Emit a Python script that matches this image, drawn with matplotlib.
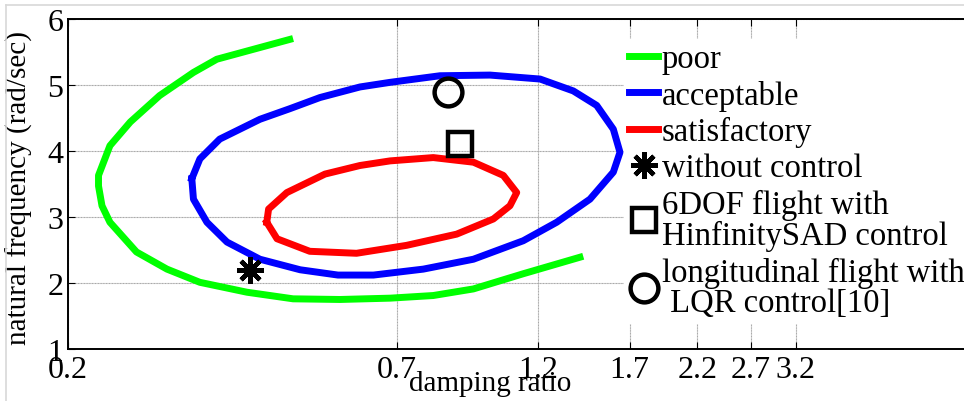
import matplotlib
matplotlib.use("Agg")
import matplotlib.pyplot as plt
from matplotlib.lines import Line2D
from matplotlib.ticker import FixedLocator, NullLocator, FixedFormatter

# 境界曲線（減衰比, 固有振動数）
poor_zeta = [0.466, 0.353, 0.323, 0.284, 0.254, 0.235, 0.225, 0.225, 0.228, 0.235, 0.260,
             0.292, 0.331, 0.396, 0.472, 0.564, 0.683, 0.805, 0.938, 1.134, 1.407]
poor_wn = [5.69, 5.39, 5.19, 4.84, 4.44, 4.08, 3.63, 3.47, 3.17, 2.92, 2.47,
           2.21, 2.01, 1.86, 1.76, 1.75, 1.77, 1.81, 1.91, 2.14, 2.39]

acceptable_zeta = [0.321, 0.331, 0.357, 0.416, 0.466, 0.523, 0.609, 0.683, 0.826, 0.999,
                   1.209, 1.372, 1.500, 1.598, 1.639, 1.598, 1.462, 1.288, 1.134, 0.938,
                   0.775, 0.641, 0.560, 0.485, 0.416, 0.367, 0.340, 0.323, 0.321]
acceptable_wn = [3.58, 3.88, 4.18, 4.48, 4.64, 4.81, 4.97, 5.04, 5.14, 5.15,
                 5.09, 4.91, 4.69, 4.33, 3.98, 3.68, 3.27, 2.92, 2.64, 2.36,
                 2.21, 2.12, 2.12, 2.20, 2.36, 2.62, 2.92, 3.27, 3.58]

satisfactory_zeta = [0.427, 0.430, 0.461, 0.533, 0.609, 0.683, 0.805, 0.938, 1.051,
                     1.106, 1.078, 1.012, 0.880, 0.727, 0.601, 0.503, 0.444, 0.427]
satisfactory_wn = [2.92, 3.12, 3.37, 3.65, 3.78, 3.85, 3.90, 3.83, 3.63,
                   3.37, 3.17, 2.97, 2.74, 2.57, 2.45, 2.48, 2.67, 2.92]

# 各制御条件の点
no_control_pt = (0.40, 2.2)
hinf_pt = (0.89, 4.1)
lqr_pt = (0.85, 4.9)

x_ticks = [0.2, 0.7, 1.2, 1.7, 2.2, 2.7, 3.2]
x_tick_labels = ["0.2", "0.7", "1.2", "1.7", "2.2", "2.7", "3.2"]
y_ticks = [1, 2, 3, 4, 5, 6]

legend_labels = ["poor", "acceptable", "satisfactory", "without control",
                 "6DOF flight with\nHinfinitySAD control",
                 "longitudinal flight with\n LQR control[10]"]


def main():
    """
    減衰比と固有振動数の評価図を描画し，out.png に保存する
    """
    plt.rcParams["font.family"] = ["Liberation Serif", "DejaVu Serif"]

    fig = plt.figure(figsize=(9.64, 4.02), dpi=100)
    # 軸の右端は画像の外側まで伸ばす
    ax = fig.add_axes([0.0701, 0.1294, 1.0657, 0.8209])

    ax.set_xscale("log")
    ax.set_xlim(0.2, 10)
    ax.set_ylim(1, 6)

    lw = 5
    ax.plot(poor_zeta, poor_wn, color="#00ff00", lw=lw, solid_joinstyle="round")
    ax.plot(acceptable_zeta, acceptable_wn, color="#0000ff", lw=lw, solid_joinstyle="round")
    ax.plot(satisfactory_zeta, satisfactory_wn, color="#ff0000", lw=lw, solid_joinstyle="round")

    star_kw = dict(marker=(8, 2, 0), markersize=19, mew=3.2, color="black", ls="none")
    sq_kw = dict(marker="s", markersize=17, mew=3.2, mfc="none", mec="black", ls="none")
    circ_kw = dict(marker="o", markersize=20, mew=3.2, mfc="none", mec="black", ls="none")
    ax.plot([no_control_pt[0]], [no_control_pt[1]], **star_kw)
    ax.plot([hinf_pt[0]], [hinf_pt[1]], **sq_kw)
    ax.plot([lqr_pt[0]], [lqr_pt[1]], **circ_kw)

    # 目盛り
    ax.xaxis.set_major_locator(FixedLocator(x_ticks))
    ax.xaxis.set_major_formatter(FixedFormatter(x_tick_labels))
    ax.xaxis.set_minor_locator(NullLocator())
    ax.set_yticks(y_ticks)
    ax.tick_params(axis="both", which="major", direction="in", length=5, width=0.8,
                   top=True, right=True, labelsize=23)
    ax.tick_params(axis="x", pad=4)
    ax.tick_params(axis="y", pad=3)
    ax.grid(True, color="#a8a8a8", lw=0.8, ls=(0, (1, 0.4)))
    ax.set_axisbelow(True)
    for side in ["top", "bottom", "left", "right"]:
        ax.spines[side].set_linewidth(1.4)

    ax.set_xlabel("damping ratio", fontsize=21)
    ax.xaxis.set_label_coords(0.411, -0.065)
    ax.set_ylabel("natural frequency (rad/sec)", fontsize=21)
    ax.yaxis.set_label_coords(-0.034, 0.49)

    # 凡例
    handles = [
        Line2D([], [], color="#00ff00", lw=lw),
        Line2D([], [], color="#0000ff", lw=lw),
        Line2D([], [], color="#ff0000", lw=lw),
        Line2D([], [], **star_kw),
        Line2D([], [], **sq_kw),
        Line2D([], [], **circ_kw),
    ]
    leg = ax.legend(handles, legend_labels, loc="upper left",
                    bbox_to_anchor=(0.5416, 0.94, 0.45, 0.0), mode="expand",
                    fontsize=23.5, frameon=True, facecolor="white", edgecolor="white",
                    framealpha=1.0, fancybox=False, borderpad=0.15, borderaxespad=0,
                    handlelength=0.9, handletextpad=0.1, labelspacing=0.17)
    for t in leg.get_texts():
        t.set_linespacing(1.0)

    # 画面キャプチャの枠線
    fig.add_artist(Line2D([0.006, 0.006], [0.0, 0.985], color="#d8d8d8", lw=1.2,
                          transform=fig.transFigure))
    fig.add_artist(Line2D([0.006, 1.0], [0.985, 0.985], color="#d8d8d8", lw=1.2,
                          transform=fig.transFigure))

    fig.savefig("out.png", dpi=100)
    plt.close(fig)


if __name__ == "__main__":
    main()
